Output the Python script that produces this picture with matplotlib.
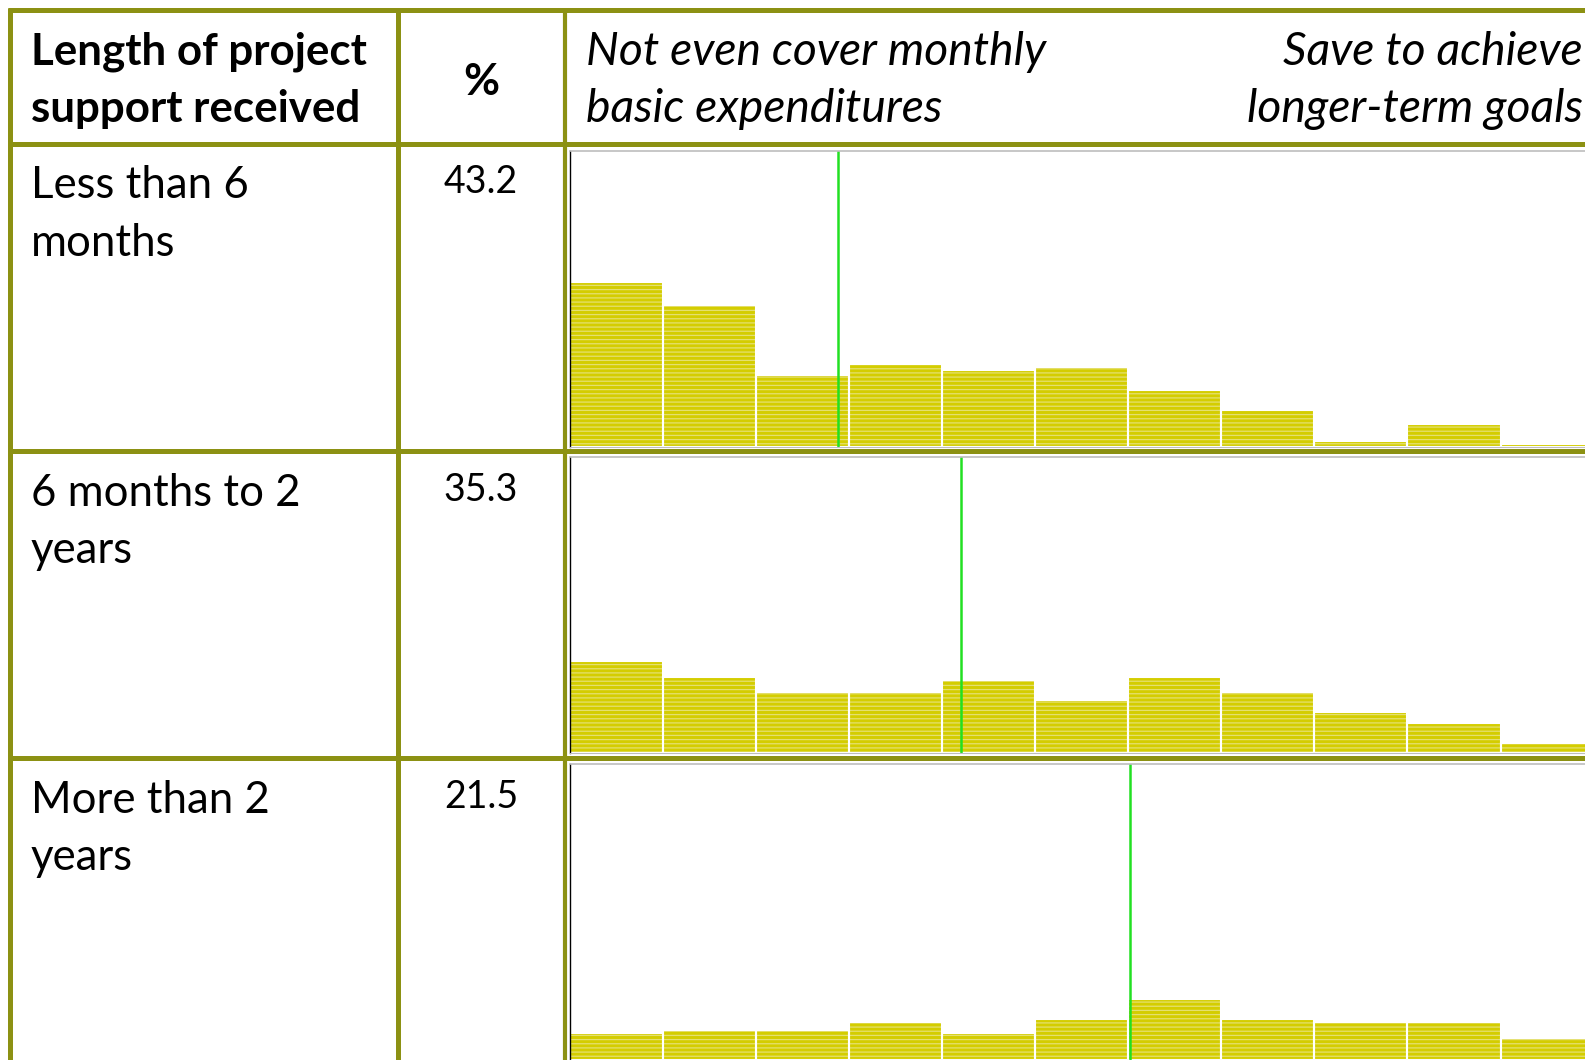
import matplotlib.pyplot as plt

plt.rcParams['font.family'] = ['Lato', 'DejaVu Sans']
plt.rcParams['hatch.linewidth'] = 0.9

# table content
col_header = ["Length of project", "support received"]
pct_header = "%"
left_anchor = ["Not even cover monthly", "basic expenditures"]
right_anchor = ["Save to achieve", "longer-term goals"]
groups = [["Less than 6", "months"], ["6 months to 2", "years"], ["More than 2", "years"]]
shares = ["43.2", "35.3", "21.5"]

# histogram bars (% of group per bin, only the bins visible in the crop)
hist_less6 = [22.2, 19.1, 9.7, 11.2, 10.3, 10.7, 7.6, 5.0, 0.8, 3.0, 0.3]
hist_6to2 = [12.4, 10.3, 8.2, 8.2, 9.8, 7.1, 10.3, 8.2, 5.6, 4.1, 1.4]
hist_more2 = [3.6, 4.1, 4.1, 5.1, 3.6, 5.6, 8.2, 5.6, 5.1, 5.1, 3.0]
hists = [hist_less6, hist_6to2, hist_more2]
# group means, in bin units
means = [2.88, 4.2, 6.02]

W, H = 1585, 1060
fig = plt.figure(figsize=(W / 100, H / 100), dpi=100)

olive = '#8c9113'
bar_yellow = '#d4cd00'
stripe = '#e4e070'
green = '#22e022'

bin_px = 93.1
panel_left = 569.5
panel_tops = [150.5, 457, 764]
panel_h = 296

for vals, m, top in zip(hists, means, panel_tops):
    ax = fig.add_axes([panel_left / W, 1 - (top + panel_h) / H, (W - panel_left) / W, panel_h / H])
    x = range(len(vals))
    ax.bar(x, vals, width=1, align='edge', color=bar_yellow, edgecolor=stripe, linewidth=0, hatch='----')
    ax.bar(x, vals, width=1, align='edge', facecolor='none', edgecolor='white', linewidth=1.5)
    ax.axvline(m, color=green, lw=1.8)
    ax.set_xlim(0, (W - panel_left) / bin_px)
    ax.set_ylim(0, 40)
    ax.set_xticks([])
    ax.set_yticks([])
    ax.spines['left'].set_color('black')
    ax.spines['left'].set_linewidth(1)
    ax.spines['top'].set_color('#bdbdbd')
    ax.spines['top'].set_linewidth(1.2)
    ax.spines['bottom'].set_color('#bdbdbd')
    ax.spines['right'].set_visible(False)

# overlay for table grid and text, in pixel coordinates
ov = fig.add_axes([0, 0, 1, 1], zorder=10)
ov.set_xlim(0, W)
ov.set_ylim(H, 0)
ov.axis('off')
ov.patch.set_alpha(0)

for y in [9.5, 144, 450.8, 757.5]:
    ov.plot([7.5, W], [y, y], color=olive, lw=3.6, solid_capstyle='butt')
for x, lw in [(10, 3.6), (397.8, 3.6), (564.7, 3.0)]:
    ov.plot([x, x], [7.5, H], color=olive, lw=lw, solid_capstyle='butt')

line_gap = 57
for i, t in enumerate(col_header):
    ov.text(31, 65 + i * line_gap, t, fontsize=31.6, fontweight='bold', va='baseline', ha='left')
ov.text(481, 95, pct_header, fontsize=31.6, fontweight='bold', va='baseline', ha='center')
for i, t in enumerate(left_anchor):
    ov.text(586, 65 + i * line_gap, t, fontsize=33.3, style='italic', va='baseline', ha='left')
for i, t in enumerate(right_anchor):
    ov.text(1583, 65 + i * line_gap, t, fontsize=33.3, style='italic', va='baseline', ha='right')

row_pitch = 307.3
for r, (lab, s) in enumerate(zip(groups, shares)):
    base = 198.5 + r * row_pitch
    for i, t in enumerate(lab):
        ov.text(31, base + i * 57, t, fontsize=31.5, va='baseline', ha='left')
    ov.text(481, 193.3 + r * row_pitch, s, fontsize=27, va='baseline', ha='center')

fig.savefig('out.png', dpi=100)
